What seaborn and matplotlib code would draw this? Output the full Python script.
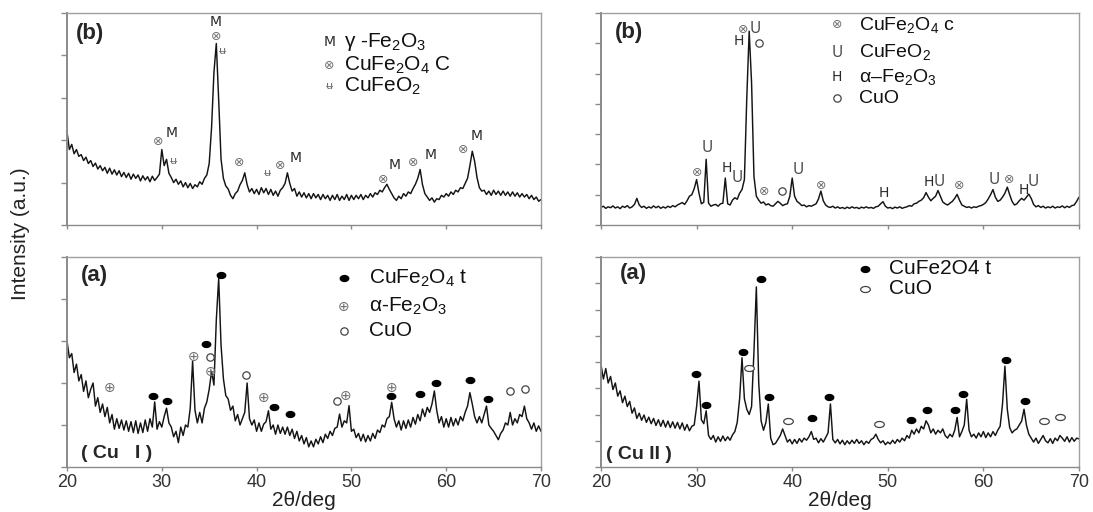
import matplotlib
matplotlib.use("Agg")
import matplotlib.pyplot as plt
import numpy as np
import seaborn as sns
from matplotlib.path import Path

# ── XRD traces, one value every 0.25 deg from 20 to 70 ──
# upper-left (b), Cu I sample
CU1_B = [
    2.20, 1.78, 1.90, 1.68, 1.78, 1.62, 1.66, 1.52, 1.60, 1.45, 1.52, 1.38, 1.46, 1.32, 1.40, 1.28, 1.36, 1.22, 1.34, 1.20,
    1.30, 1.18, 1.28, 1.14, 1.24, 1.12, 1.22, 1.08, 1.20, 1.10, 1.18, 1.04, 1.16, 1.06, 1.14, 1.02, 1.15, 1.05, 1.12, 1.20,
    1.78, 1.40, 1.55, 1.22, 1.12, 1.00, 1.08, 0.96, 1.04, 0.90, 1.00, 0.88, 0.98, 0.86, 0.95, 0.90, 1.02, 0.96, 1.10, 1.18,
    1.45, 2.30, 3.60, 4.28, 2.95, 1.55, 1.10, 0.92, 0.85, 0.70, 0.62, 0.74, 0.80, 0.95, 1.05, 1.23, 0.95, 0.78, 0.86, 0.74,
    0.84, 0.72, 0.88, 0.76, 0.86, 0.72, 0.84, 0.70, 0.80, 0.68, 0.82, 0.88, 0.98, 1.23, 0.98, 0.80, 0.86, 0.68, 0.78, 0.66,
    0.76, 0.64, 0.74, 0.62, 0.74, 0.64, 0.72, 0.60, 0.72, 0.62, 0.70, 0.58, 0.70, 0.60, 0.72, 0.58, 0.68, 0.60, 0.72, 0.58,
    0.70, 0.60, 0.70, 0.62, 0.72, 0.60, 0.70, 0.64, 0.74, 0.66, 0.76, 0.72, 0.82, 0.78, 0.88, 0.96, 0.84, 0.74, 0.64, 0.58,
    0.68, 0.62, 0.74, 0.68, 0.78, 0.74, 0.86, 0.96, 1.10, 1.31, 0.95, 0.74, 0.66, 0.58, 0.64, 0.54, 0.62, 0.60, 0.70, 0.66,
    0.74, 0.68, 0.78, 0.72, 0.82, 0.78, 0.88, 0.86, 0.98, 1.10, 1.40, 1.74, 1.50, 1.12, 0.88, 0.80, 0.82, 0.72, 0.80, 0.70,
    0.82, 0.72, 0.80, 0.70, 0.80, 0.70, 0.78, 0.68, 0.78, 0.68, 0.76, 0.66, 0.74, 0.66, 0.72, 0.62, 0.70, 0.60, 0.66, 0.56,
    0.60,
]
# lower-left (a), Cu I sample
CU1_A = [
    3.00, 2.60, 2.70, 2.25, 2.45, 2.05, 2.20, 1.80, 2.05, 1.65, 1.85, 2.00, 1.45, 1.65, 1.30, 1.50, 1.20, 1.42, 1.05, 1.25,
    0.90, 1.15, 0.92, 1.12, 0.88, 1.10, 0.85, 1.08, 0.82, 1.10, 0.80, 1.05, 0.82, 1.12, 0.85, 1.15, 0.95, 1.55, 0.90, 1.08,
    0.95, 1.20, 1.40, 1.05, 0.95, 0.72, 0.85, 0.58, 0.95, 0.75, 1.00, 0.95, 1.40, 2.52, 1.35, 1.05, 1.30, 1.05, 1.40, 1.55,
    1.85, 2.28, 1.95, 3.50, 4.49, 2.90, 2.10, 1.70, 1.62, 1.35, 1.45, 1.10, 1.25, 1.00, 1.15, 1.30, 2.00, 1.15, 1.00, 1.12,
    0.85, 1.05, 0.85, 1.02, 1.08, 1.34, 0.90, 1.00, 0.78, 1.00, 0.80, 0.95, 0.78, 0.95, 0.75, 0.90, 0.68, 0.85, 0.62, 0.75,
    0.55, 0.70, 0.48, 0.62, 0.48, 0.66, 0.55, 0.72, 0.58, 0.78, 0.68, 0.85, 0.75, 0.92, 0.95, 1.26, 0.95, 1.10, 1.05, 1.46,
    0.85, 0.90, 0.70, 0.80, 0.62, 0.78, 0.60, 0.75, 0.62, 0.80, 0.68, 0.88, 0.82, 1.00, 0.95, 1.15, 1.20, 1.54, 1.15, 0.95,
    1.10, 0.88, 1.10, 0.92, 1.12, 0.95, 1.18, 1.02, 1.25, 1.10, 1.38, 1.20, 1.42, 1.30, 1.50, 1.81, 1.35, 1.05, 1.20, 0.95,
    1.15, 0.95, 1.18, 0.98, 1.15, 1.00, 1.20, 1.10, 1.30, 1.45, 1.77, 1.50, 1.20, 1.05, 1.20, 1.05, 1.25, 1.45, 1.00, 0.92,
    0.85, 0.75, 0.65, 0.80, 0.88, 1.05, 1.00, 1.30, 1.00, 1.15, 1.05, 1.25, 1.20, 1.45, 1.15, 1.05, 0.90, 1.05, 0.85, 0.98,
    0.85,
]
# upper-right (b), Cu II sample
CU2_B = [
    0.58, 0.62, 0.55, 0.60, 0.57, 0.63, 0.56, 0.60, 0.54, 0.62, 0.58, 0.64, 0.56, 0.60, 0.68, 0.88, 0.66, 0.58, 0.62, 0.55,
    0.60, 0.56, 0.63, 0.57, 0.62, 0.55, 0.60, 0.56, 0.62, 0.58, 0.64, 0.60, 0.66, 0.70, 0.74, 0.68, 0.80, 0.95, 1.00, 1.20,
    1.50, 1.05, 0.70, 0.75, 2.17, 0.72, 0.62, 0.66, 0.68, 0.62, 0.70, 0.72, 1.55, 0.70, 0.66, 0.82, 0.90, 0.85, 1.05, 1.17,
    1.50, 4.20, 6.40, 4.70, 1.60, 0.95, 0.82, 0.72, 0.76, 0.66, 0.70, 0.64, 0.62, 0.70, 0.78, 0.72, 0.64, 0.68, 0.70, 0.95,
    1.55, 0.95, 0.78, 0.72, 0.64, 0.66, 0.60, 0.64, 0.62, 0.66, 0.70, 0.86, 1.12, 0.80, 0.66, 0.60, 0.58, 0.62, 0.56, 0.60,
    0.55, 0.58, 0.54, 0.59, 0.55, 0.60, 0.56, 0.58, 0.54, 0.59, 0.56, 0.60, 0.56, 0.58, 0.55, 0.60, 0.62, 0.70, 0.77, 0.62,
    0.56, 0.58, 0.54, 0.59, 0.56, 0.60, 0.55, 0.58, 0.60, 0.64, 0.62, 0.70, 0.72, 0.78, 0.82, 0.90, 1.07, 0.92, 0.80, 0.88,
    0.95, 1.14, 0.95, 0.76, 0.70, 0.66, 0.72, 0.78, 0.88, 1.01, 0.82, 0.66, 0.62, 0.58, 0.60, 0.56, 0.60, 0.58, 0.62, 0.64,
    0.68, 0.74, 0.86, 1.00, 1.17, 0.92, 0.78, 0.82, 0.92, 1.05, 1.25, 1.00, 0.78, 0.66, 0.70, 0.80, 0.88, 0.82, 0.92, 1.02,
    0.88, 0.68, 0.60, 0.64, 0.58, 0.62, 0.56, 0.60, 0.57, 0.62, 0.56, 0.60, 0.58, 0.63, 0.57, 0.62, 0.58, 0.64, 0.66, 0.78,
    0.92,
]
# lower-right (a), Cu II sample
CU2_A = [
    3.90, 3.35, 3.75, 3.20, 3.45, 2.95, 3.20, 2.70, 2.90, 2.45, 2.70, 2.30, 2.50, 2.05, 2.25, 1.85, 2.05, 1.78, 1.98, 1.70,
    1.90, 1.65, 1.85, 1.58, 1.80, 1.55, 1.78, 1.52, 1.75, 1.50, 1.72, 1.48, 1.70, 1.45, 1.68, 1.40, 1.62, 1.38, 1.55, 1.60,
    2.30, 3.27, 1.80, 1.65, 2.14, 1.20, 1.05, 1.20, 0.95, 1.15, 0.98, 1.18, 1.00, 1.15, 1.02, 1.22, 1.35, 1.70, 2.60, 4.16,
    2.60, 2.20, 2.00, 2.30, 4.40, 6.86, 3.20, 1.75, 1.40, 1.70, 2.40, 1.10, 0.85, 0.90, 1.05, 1.20, 1.45, 1.20, 0.95, 1.05,
    0.88, 1.05, 0.90, 1.08, 0.95, 1.10, 1.02, 1.15, 1.35, 1.05, 1.10, 0.92, 1.08, 0.95, 1.12, 1.30, 2.40, 1.05, 0.92, 1.05,
    0.88, 1.02, 0.85, 1.00, 0.88, 1.02, 0.90, 1.05, 0.90, 1.00, 0.85, 0.98, 0.90, 1.05, 1.10, 1.25, 1.05, 0.92, 1.00, 0.85,
    0.95, 0.88, 1.02, 0.90, 1.05, 0.95, 1.10, 1.00, 1.20, 1.10, 1.40, 1.25, 1.45, 1.30, 1.55, 1.45, 1.76, 1.60, 1.30, 1.45,
    1.25, 1.40, 1.30, 1.45, 1.20, 1.10, 1.25, 1.15, 1.40, 1.89, 1.15, 1.35, 1.60, 2.58, 1.40, 1.15, 1.25, 1.10, 1.30, 1.15,
    1.35, 1.12, 1.30, 1.15, 1.35, 1.20, 1.40, 1.55, 2.40, 3.84, 2.20, 1.50, 1.30, 1.40, 1.45, 1.60, 1.75, 2.20, 1.60, 1.25,
    1.10, 0.95, 1.10, 0.90, 1.05, 1.20, 1.00, 0.92, 1.08, 0.90, 1.10, 1.00, 1.20, 1.10, 0.98, 1.15, 0.95, 1.12, 0.98, 1.10,
    1.07,
]
TWO_THETA = np.linspace(20.0, 70.0, len(CU1_B))

# ── peak labels: (phase, 2theta, height) ──
CU1_B_MARKS = [
    ("M", 31.0, 2.16), ("spinel_c", 29.6, 1.96), ("delafossite", 31.2, 1.50),
    ("M", 35.7, 4.78), ("spinel_c", 35.7, 4.45), ("delafossite", 36.4, 4.10),
    ("spinel_c", 38.2, 1.47), ("delafossite", 41.1, 1.23),
    ("spinel_c", 42.5, 1.41), ("M", 44.1, 1.59),
    ("spinel_c", 53.3, 1.08), ("M", 54.6, 1.41),
    ("spinel_c", 56.5, 1.47), ("M", 58.4, 1.64),
    ("spinel_c", 61.8, 1.78), ("M", 63.2, 2.09),
]
CU1_A_MARKS = [
    ("hematite", 24.5, 1.87), ("spinel_t", 29.1, 1.68), ("spinel_t", 30.5, 1.56),
    ("hematite", 33.4, 2.62), ("cuo", 35.1, 2.62), ("spinel_t", 34.7, 2.94), ("hematite", 35.1, 2.27),
    ("spinel_t", 36.2, 4.58), ("cuo", 38.9, 2.20), ("hematite", 40.7, 1.65),
    ("spinel_t", 41.8, 1.43), ("spinel_t", 43.5, 1.26),
    ("cuo", 48.5, 1.56), ("hematite", 49.4, 1.68),
    ("hematite", 54.2, 1.87), ("spinel_t", 54.2, 1.68),
    ("spinel_t", 57.2, 1.73), ("spinel_t", 58.9, 2.00), ("spinel_t", 62.5, 2.06), ("spinel_t", 64.4, 1.61),
    ("cuo", 66.7, 1.81), ("cuo", 68.3, 1.85),
]
CU2_B_MARKS = [
    ("spinel_c", 30.1, 1.72), ("U", 31.1, 2.55), ("H", 33.2, 1.88), ("U", 34.3, 1.58),
    ("spinel_c", 34.9, 6.47), ("U", 36.1, 6.50), ("H", 34.4, 6.07), ("cuo", 36.5, 6.00),
    ("spinel_c", 37.1, 1.12), ("cuo", 38.9, 1.12), ("U", 40.6, 1.83), ("spinel_c", 43.0, 1.32),
    ("H", 49.6, 1.07), ("H", 54.3, 1.42), ("U", 55.4, 1.42), ("spinel_c", 57.5, 1.32),
    ("U", 61.1, 1.50), ("spinel_c", 62.7, 1.50), ("H", 64.2, 1.17), ("U", 65.2, 1.42),
]
CU2_A_MARKS = [
    ("spinel_t", 29.9, 3.55), ("spinel_t", 31.0, 2.37), ("spinel_t", 34.9, 4.38), ("cuo_flat", 35.5, 3.78),
    ("spinel_t", 36.7, 7.15), ("spinel_t", 37.6, 2.68), ("cuo_flat", 39.6, 1.74), ("spinel_t", 42.1, 1.86),
    ("spinel_t", 43.9, 2.67), ("cuo_flat", 49.1, 1.64), ("spinel_t", 52.4, 1.79), ("spinel_t", 54.1, 2.19),
    ("spinel_t", 57.0, 2.19), ("spinel_t", 57.9, 2.80), ("spinel_t", 62.4, 4.09), ("spinel_t", 64.3, 2.52),
    ("cuo_flat", 66.3, 1.74), ("cuo_flat", 68.0, 1.91),
]

# ── legends: (phase, label) ──
CU1_B_LEGEND = [("M", "γ -Fe$\\mathregular{_2}$O$\\mathregular{_3}$"),
                ("spinel_c", "CuFe$\\mathregular{_2}$O$\\mathregular{_4}$ C"),
                ("delafossite", "CuFeO$\\mathregular{_2}$")]
CU1_A_LEGEND = [("spinel_t", "CuFe$\\mathregular{_2}$O$\\mathregular{_4}$ t"),
                ("hematite", "α-Fe$\\mathregular{_2}$O$\\mathregular{_3}$"),
                ("cuo", "CuO")]
CU2_B_LEGEND = [("spinel_c", "CuFe$\\mathregular{_2}$O$\\mathregular{_4}$ c"),
                ("U", "CuFeO$\\mathregular{_2}$"),
                ("H", "α–Fe$\\mathregular{_2}$O$\\mathregular{_3}$"),
                ("cuo", "CuO")]
CU2_A_LEGEND = [("spinel_t", "CuFe2O4 t"), ("cuo_flat", "CuO")]

# ── style ──
sns.set_style("ticks")
plt.rcParams["font.family"] = ["Liberation Sans", "DejaVu Sans"]
plt.rcParams["mathtext.fontset"] = "custom"
plt.rcParams["mathtext.rm"] = "Liberation Sans"
plt.rcParams["mathtext.it"] = "Liberation Sans:italic"
plt.rcParams["mathtext.bf"] = "Liberation Sans:bold"

GLYPHS = {
    "M": ("M", 10, "#2a2a2a"),
    "spinel_c": ("⊗", 9, "#707070"),
    "delafossite": ("ʉ", 8, "#707070"),
    "U": ("U", 11, "#505050"),
    "H": ("H", 10, "#2a2a2a"),
    "hematite": ("⊕", 10, "#707070"),
}
_t = np.linspace(0, 2 * np.pi, 41)
ELLIPSE = Path(np.column_stack([1.35 * np.cos(_t), np.sin(_t)]), closed=True)
FLAT_ELLIPSE = Path(np.column_stack([1.6 * np.cos(_t), np.sin(_t)]), closed=True)


def put_symbol(ax, phase, x, y):
    if phase in GLYPHS:
        glyph, size, color = GLYPHS[phase]
        ax.text(x, y, glyph, fontsize=size, color=color,
                ha="center", va="center", family=["DejaVu Sans"], zorder=5)
    elif phase == "spinel_t":
        ax.scatter([x], [y], marker=ELLIPSE, s=50, color="black",
                   linewidths=0, zorder=5)
    elif phase == "cuo":
        ax.scatter([x], [y], marker="o", s=28, facecolor="white",
                   edgecolor="#444444", linewidths=0.9, zorder=5)
    elif phase == "cuo_flat":
        ax.scatter([x], [y], marker=FLAT_ELLIPSE, s=48, facecolor="white",
                   edgecolor="#444444", linewidths=0.9, zorder=5)


W, H = 1093, 512
fig = plt.figure(figsize=(W / 100, H / 100), dpi=100)


def make_axes(left, top, right, bottom):
    return fig.add_axes([left / W, 1 - bottom / H, (right - left) / W, (bottom - top) / H])


def draw_panel(ax, values, ymax, marks, legend, legend_sym_x, legend_txt_x, legend_rows,
               tag, tag_x, tag_y, sample=None, sample_x=None, sample_y=None, bottom=False,
               legend_size=15):
    sns.lineplot(x=TWO_THETA, y=values, ax=ax, color="#141414", linewidth=1.05,
                 estimator=None, errorbar=None, sort=False)
    ax.set_xlim(20, 70)
    ax.set_ylim(0, ymax)
    ax.set_xticks(range(20, 71, 10))
    ax.set_yticks(range(0, ymax + 1))
    ax.set_yticklabels([])
    ax.set_ylabel("")
    for side, sp in ax.spines.items():
        sp.set_color("#8a8a8a" if side in ("left", "bottom") else "#a0a0a0")
        sp.set_linewidth(1.4 if side == "left" else 1.0)
    ax.tick_params(axis="y", direction="out", length=4, width=1, color="#8a8a8a")
    ax.tick_params(axis="x", direction="out", length=3, width=1, color="#8a8a8a",
                   labelsize=13, labelcolor="#333333", pad=2, labelbottom=bottom)
    if bottom:
        ax.set_xlabel("2θ/deg", fontsize=15, color="#222222", labelpad=0)
    else:
        ax.set_xlabel("")

    for phase, x, y in marks:
        put_symbol(ax, phase, x, y)
    for (phase, label), y in zip(legend, legend_rows):
        put_symbol(ax, phase, legend_sym_x, y)
        ax.text(legend_txt_x, y, label, fontsize=legend_size, color="#111111",
                ha="left", va="center")
    ax.text(tag_x, tag_y, tag, fontsize=16, fontweight="bold", ha="left", va="center")
    if sample is not None:
        ax.text(sample_x, sample_y, sample, fontsize=14, fontweight="bold",
                ha="left", va="center")


ax_ul = make_axes(67, 13, 541, 225)
ax_ll = make_axes(67, 257, 541, 467)
ax_ur = make_axes(601, 13, 1079, 225)
ax_lr = make_axes(601, 257, 1079, 467)

draw_panel(ax_ul, CU1_B, 5, CU1_B_MARKS, CU1_B_LEGEND, 47.7, 49.2, [4.32, 3.77, 3.28],
           "(b)", 20.9, 4.52)
draw_panel(ax_ll, CU1_A, 5, CU1_A_MARKS, CU1_A_LEGEND, 49.2, 51.9, [4.49, 3.82, 3.25],
           "(a)", 21.5, 4.57, sample="( Cu   I )", sample_x=21.5, sample_y=0.33, bottom=True)
draw_panel(ax_ur, CU2_B, 7, CU2_B_MARKS, CU2_B_LEGEND, 44.7, 47.0, [6.62, 5.70, 4.88, 4.18],
           "(b)", 21.5, 6.34, legend_size=14)
draw_panel(ax_lr, CU2_A, 8, CU2_A_MARKS, CU2_A_LEGEND, 47.6, 50.1, [7.56, 6.80],
           "(a)", 22.0, 7.37, sample="( Cu II )", sample_x=20.5, sample_y=0.46, bottom=True)

fig.text(21 / W, 1 - 234 / H, "Intensity (a.u.)", rotation=90, ha="center", va="center",
         fontsize=15, color="#222222",
         family=["Liberation Sans Narrow", "Liberation Sans", "DejaVu Sans"])

fig.savefig("out.png", dpi=100)
